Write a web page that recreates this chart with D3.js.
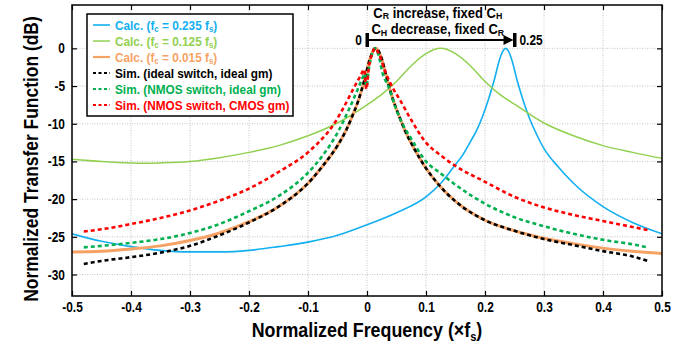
<!DOCTYPE html>
<html>
<head>
<meta charset="utf-8">
<script src="https://cdn.jsdelivr.net/npm/d3@7"></script>
<style>
  body { margin: 0; background: #fff; }
  svg { display: block; font-family: "Liberation Sans", Arial, sans-serif; font-weight: bold; }
</style>
</head>
<body>
<div id="chart"></div>
<script>
// [normalized frequency, dB]
const calc235 = [
  [-0.5, -24.6], [-0.45, -25.6], [-0.4, -26.3], [-0.35, -26.8], [-0.3, -27.0],
  [-0.25, -27.0], [-0.2, -26.8], [-0.15, -26.3], [-0.1, -25.7], [-0.05, -24.8],
  [0, -23.4], [0.05, -21.8], [0.1, -19.7], [0.125, -17.9], [0.15, -15.4],
  [0.16, -14.4], [0.175, -12.4], [0.185, -11.0], [0.195, -9.2], [0.205, -7.0],
  [0.215, -4.4], [0.225, -1.4], [0.23, -0.4], [0.235, 0], [0.24, -0.4],
  [0.245, -1.4], [0.255, -4.4], [0.265, -7.0], [0.275, -9.2], [0.285, -11.0],
  [0.3, -13.3], [0.325, -15.8], [0.35, -17.9], [0.4, -21.0], [0.45, -23.1], [0.5, -24.6]
];
const calc125 = [
  [-0.5, -14.7], [-0.45, -15.0], [-0.4, -15.2], [-0.375, -15.25], [-0.35, -15.2],
  [-0.3, -15.0], [-0.25, -14.5], [-0.2, -13.8], [-0.15, -12.9], [-0.1, -11.6],
  [-0.05, -9.9], [0, -7.5], [0.025, -6.1], [0.05, -4.4], [0.075, -2.3],
  [0.1, -0.7], [0.125, 0], [0.15, -0.7], [0.175, -2.3], [0.2, -4.4],
  [0.225, -6.1], [0.25, -7.4], [0.3, -9.9], [0.35, -11.6], [0.4, -12.9],
  [0.45, -13.8], [0.5, -14.6]
];
const calc015 = [
  [-0.5, -27.0], [-0.45, -26.9], [-0.4, -26.6], [-0.35, -26.2], [-0.3, -25.5],
  [-0.25, -24.5], [-0.2, -23.0], [-0.15, -21.0], [-0.1, -17.9], [-0.075, -15.6],
  [-0.05, -12.9], [-0.035, -10.8], [-0.025, -9.0], [-0.015, -7.0], [-0.005, -4.4],
  [0.005, -1.4], [0.01, -0.4], [0.015, 0], [0.02, -0.4], [0.025, -1.4],
  [0.035, -4.4], [0.045, -7.0], [0.055, -9.1], [0.065, -11.0], [0.08, -13.3],
  [0.1, -15.9], [0.125, -18.4], [0.15, -20.3], [0.2, -22.8], [0.25, -24.2],
  [0.3, -25.2], [0.35, -25.9], [0.4, -26.5], [0.45, -26.9], [0.5, -27.2]
];
const simIdeal = [
  [-0.48, -28.6], [-0.45, -28.2], [-0.4, -27.7], [-0.35, -27.1], [-0.3, -26.2],
  [-0.25, -24.8], [-0.2, -23.1], [-0.15, -21.0], [-0.1, -17.9], [-0.075, -15.6],
  [-0.05, -12.9], [-0.035, -10.8], [-0.025, -9.0], [-0.015, -7.0], [-0.005, -4.4],
  [0.005, -1.4], [0.01, -0.4], [0.015, 0], [0.02, -0.4], [0.025, -1.4],
  [0.035, -4.4], [0.045, -7.0], [0.055, -9.1], [0.065, -11.0], [0.08, -13.3],
  [0.1, -15.9], [0.125, -18.4], [0.15, -20.3], [0.2, -22.8], [0.25, -24.2],
  [0.3, -25.3], [0.35, -26.1], [0.4, -26.9], [0.45, -27.6], [0.476, -28.2]
];
const simNmos = [
  [-0.48, -26.4], [-0.45, -26.2], [-0.4, -25.8], [-0.35, -25.3], [-0.3, -24.5],
  [-0.25, -23.3], [-0.2, -21.6], [-0.15, -19.6], [-0.1, -16.5], [-0.075, -14.2],
  [-0.05, -11.2], [-0.03, -8.0], [-0.015, -5.3], [-0.008, -4.0], [-0.004, -3.3],
  [-0.001, -5.0], [0.003, -2.8], [0.008, -0.9], [0.013, 0], [0.02, -1.0],
  [0.026, -3.2], [0.036, -5.0], [0.049, -8.0], [0.06, -10.0], [0.075, -12.0],
  [0.1, -15.0], [0.125, -16.6], [0.15, -18.1], [0.2, -20.6], [0.25, -22.4],
  [0.3, -23.6], [0.35, -24.6], [0.4, -25.4], [0.45, -26.0], [0.476, -26.4]
];
const simCmos = [
  [-0.48, -24.3], [-0.45, -24.0], [-0.4, -23.3], [-0.35, -22.5], [-0.3, -21.5],
  [-0.25, -20.2], [-0.2, -18.6], [-0.15, -16.4], [-0.1, -13.8], [-0.075, -11.9],
  [-0.06, -10.5], [-0.04, -7.9], [-0.02, -4.9], [-0.01, -3.5], [-0.005, -2.8],
  [-0.001, -5.4], [0.003, -2.6], [0.008, -0.9], [0.013, 0], [0.02, -0.7],
  [0.03, -2.9], [0.042, -5.0], [0.057, -7.0], [0.075, -9.5], [0.1, -12.5],
  [0.125, -14.2], [0.15, -15.6], [0.2, -17.7], [0.25, -19.7], [0.3, -21.1],
  [0.35, -22.1], [0.4, -22.9], [0.45, -23.7], [0.476, -24.1]
];

const xTicks = [-0.5, -0.4, -0.3, -0.2, -0.1, 0, 0.1, 0.2, 0.3, 0.4, 0.5];
const yTicks = [-30, -25, -20, -15, -10, -5, 0];

const series = [
  { data: calc235, color: "#12aff0", width: 1.6, dash: null, label: ["Calc. (f", "c", " = 0.235 f", "s", ")"] },
  { data: calc125, color: "#92d050", width: 1.5, dash: null, label: ["Calc. (f", "c", " = 0.125 f", "s", ")"] },
  { data: calc015, color: "#f7a265", width: 3, dash: null, label: ["Calc. (f", "c", " = 0.015 f", "s", ")"] },
  { data: simIdeal, color: "#000000", width: 2.6, dash: "4,3", label: ["Sim. (ideal switch, ideal gm)"] },
  { data: simNmos, color: "#00b050", width: 2.6, dash: "4,3", label: ["Sim. (NMOS switch, ideal gm)"] },
  { data: simCmos, color: "#ff0000", width: 2.6, dash: "4,3", label: ["Sim. (NMOS switch, CMOS gm)"] }
];

const width = 696, height = 349;
const margin = { left: 72, right: 34, top: 5, bottom: 53 };
const w = width - margin.left - margin.right;
const h = height - margin.top - margin.bottom;

// no narrow font installed: squeeze texts sideways instead
function squeeze(sel, sx) {
  sel.each(function () {
    const t = d3.select(this);
    const tx = +t.attr("x") || 0, ty = +t.attr("y") || 0;
    t.attr("x", 0).attr("y", 0)
      .attr("transform", "translate(" + tx + "," + ty + ") scale(" + sx + ",1)");
  });
}
const fmt = d => (d === 0 ? "0" : String(d));

// text with alternating normal / subscript parts
function addSubs(t, parts, size, subSize, drop) {
  parts.forEach((s, k) => {
    const sub = k % 2 === 1;
    t.append("tspan").text(s)
      .style("font-size", (sub ? subSize : size) + "px")
      .attr("dy", sub ? drop : (k > 0 ? -drop : 0));
  });
}

const svg = d3.select("#chart").append("svg")
  .attr("width", width).attr("height", height);

const x = d3.scaleLinear().domain([-0.5, 0.5]).range([0, w]);
const y = d3.scaleLinear().domain([-32.85, 5.75]).range([h, 0]);

const g = svg.append("g")
  .attr("transform", "translate(" + margin.left + "," + margin.top + ")");

// grid
g.append("g").selectAll("line").data(xTicks).join("line")
  .attr("x1", d => x(d)).attr("x2", d => x(d))
  .attr("y1", 0).attr("y2", h)
  .attr("stroke", "#c4c4c4").attr("stroke-dasharray", "1,1.5");
g.append("g").selectAll("line").data(yTicks).join("line")
  .attr("x1", 0).attr("x2", w)
  .attr("y1", d => y(d)).attr("y2", d => y(d))
  .attr("stroke", "#c4c4c4").attr("stroke-dasharray", "1,1.5");

// axes (ticks inward)
const xAxis = d3.axisBottom(x).tickValues(xTicks).tickSize(-5).tickPadding(6).tickFormat(fmt);
const yAxis = d3.axisLeft(y).tickValues(yTicks).tickSize(-5).tickPadding(7).tickFormat(fmt);
const gx = g.append("g").attr("transform", "translate(0," + h + ")").call(xAxis);
const gy = g.append("g").call(yAxis);
g.append("g").call(d3.axisTop(x).tickValues(xTicks).tickSize(-5).tickFormat(""));
g.append("g").attr("transform", "translate(" + w + ",0)").call(d3.axisRight(y).tickValues(yTicks).tickSize(-5).tickFormat(""));
g.selectAll(".domain").remove();
g.selectAll(".tick line").attr("stroke", "#000").attr("stroke-width", 1.2);
gx.selectAll("text").style("font-size", "14px").attr("fill", "#000").call(squeeze, 0.85);
gy.selectAll("text").style("font-size", "14px").attr("fill", "#000").call(squeeze, 0.85);

// curves
g.append("clipPath").attr("id", "clip").append("rect").attr("width", w).attr("height", h);
const line = d3.line().x(d => x(d[0])).y(d => y(d[1])).curve(d3.curveMonotoneX);
g.append("g").attr("clip-path", "url(#clip)")
  .selectAll("path").data(series).join("path")
  .attr("d", d => line(d.data))
  .attr("fill", "none")
  .attr("stroke", d => d.color)
  .attr("stroke-width", d => d.width)
  .attr("stroke-dasharray", d => d.dash);

// frame
g.append("rect").attr("width", w).attr("height", h)
  .attr("fill", "none").attr("stroke", "#000").attr("stroke-width", 1.5);

// legend
const legend = svg.append("g").attr("transform", "translate(87,14)");
legend.append("rect").attr("width", 206).attr("height", 102)
  .attr("fill", "#fff").attr("stroke", "#000").attr("stroke-width", 1.5);
const rows = legend.selectAll("g.row").data(series).join("g")
  .attr("class", "row")
  .attr("transform", (d, i) => "translate(0," + (11 + i * 16) + ")");
rows.append("line").attr("x1", 6).attr("x2", 23)
  .attr("stroke", d => d.color).attr("stroke-width", d => Math.min(d.width, 2.2))
  .attr("stroke-dasharray", d => d.dash ? "3,2.5" : null);
const lt = rows.append("text").attr("x", 28).attr("y", 5)
  .attr("fill", d => d.color).style("font-size", "13.5px");
lt.each(function (d) { addSubs(d3.select(this), d.label, 13.5, 9, 2); });
lt.call(squeeze, 0.875);

// annotation arrow
const ay = 40 - margin.top;
const ann = g.append("g");
ann.append("line").attr("x1", x(0)).attr("x2", x(0.25) - 8)
  .attr("y1", ay).attr("y2", ay).attr("stroke", "#000").attr("stroke-width", 2);
ann.append("path")
  .attr("d", "M" + (x(0.25) - 1) + "," + ay + "L" + (x(0.25) - 11) + "," + (ay - 5) + "L" + (x(0.25) - 11) + "," + (ay + 5) + "Z")
  .attr("fill", "#000");
ann.selectAll("rect").data([0, 0.25]).join("rect")
  .attr("x", d => x(d) - 1.5).attr("y", ay - 7).attr("width", 3.5).attr("height", 14)
  .attr("fill", "#000");
ann.append("text").attr("x", x(0) - 5).attr("y", ay + 5).attr("text-anchor", "end")
  .style("font-size", "14px").text("0").call(squeeze, 0.85);
ann.append("text").attr("x", x(0.25) + 5).attr("y", ay + 5)
  .style("font-size", "14px").text("0.25").call(squeeze, 0.85);

function annText(cy, parts) {
  const t = ann.append("text").attr("x", x(0.12)).attr("y", cy)
    .attr("text-anchor", "middle").style("font-size", "14px");
  addSubs(t, parts, 14, 9.5, 1.5);
  t.call(squeeze, 0.93);
}
annText(17.5 - margin.top, ["C", "R", " increase, fixed C", "H", ""]);
annText(34 - margin.top, ["C", "H", " decrease, fixed C", "R", ""]);

// axis titles
svg.append("text").attr("x", margin.left + x(0)).attr("y", 337)
  .attr("text-anchor", "middle").style("font-size", "21px")
  .call(t => {
    t.append("tspan").text("Normalized Frequency (\u00d7f");
    t.append("tspan").text("s").style("font-size", "13px").attr("dy", 4);
    t.append("tspan").text(")").attr("dy", -4);
  })
  .call(squeeze, 0.85);
svg.append("text")
  .attr("transform", "translate(38,159) rotate(-90) scale(0.83,1)")
  .attr("text-anchor", "middle").style("font-size", "21px")
  .text("Normalized Transfer Function (dB)");
</script>
</body>
</html>
